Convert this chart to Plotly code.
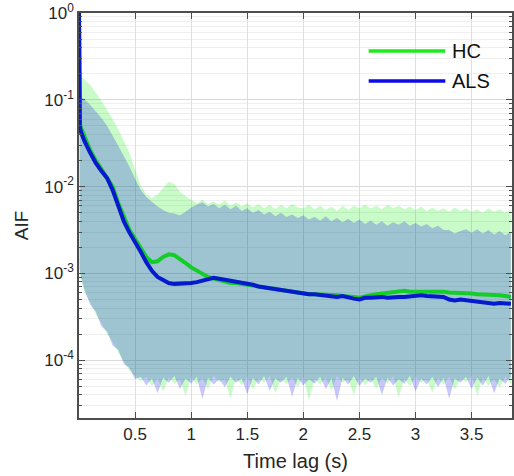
import plotly.graph_objects as go

# ---------------- data (values stored as log10 exponents) -------------
t_band = [0.005, 0.02,
          0.05, 0.10, 0.15, 0.20, 0.25, 0.30, 0.35, 0.40, 0.45, 0.50,
          0.55, 0.60, 0.65, 0.70, 0.75, 0.80, 0.85, 0.90, 0.95, 1.00,
          1.05, 1.10, 1.15, 1.20, 1.25, 1.30, 1.35, 1.40, 1.45, 1.50,
          1.55, 1.60, 1.65, 1.70, 1.75, 1.80, 1.85, 1.90, 1.95, 2.00,
          2.05, 2.10, 2.15, 2.20, 2.25, 2.30, 2.35, 2.40, 2.45, 2.50,
          2.55, 2.60, 2.65, 2.70, 2.75, 2.80, 2.85, 2.90, 2.95, 3.00,
          3.05, 3.10, 3.15, 3.20, 3.25, 3.30, 3.35, 3.40, 3.45, 3.50,
          3.55, 3.60, 3.65, 3.70, 3.75, 3.80, 3.85]

hc_upper_exp = [-0.70, -0.73,
                -0.77, -0.83, -0.92, -1.01, -1.12, -1.22, -1.34, -1.47, -1.61, -1.80,
                -1.99, -2.09, -2.13, -2.09, -2.01, -1.94, -1.97, -2.06, -2.11, -2.15,
                -2.19, -2.15, -2.20, -2.17, -2.21, -2.16, -2.22, -2.18, -2.23, -2.19,
                -2.24, -2.20, -2.25, -2.21, -2.26, -2.21, -2.25, -2.20, -2.24, -2.25,
                -2.21, -2.26, -2.22, -2.27, -2.23, -2.28, -2.22, -2.27, -2.22, -2.25,
                -2.21, -2.25, -2.22, -2.26, -2.21, -2.25, -2.22, -2.26, -2.23, -2.27,
                -2.23, -2.28, -2.24, -2.28, -2.25, -2.29, -2.24, -2.28, -2.25, -2.29,
                -2.26, -2.30, -2.25, -2.29, -2.26, -2.30, -2.27]

als_upper_exp = [-0.95, -0.97,
                 -1.00, -1.06, -1.13, -1.21, -1.30, -1.41, -1.53, -1.65, -1.77, -1.91,
                 -2.04, -2.12, -2.18, -2.23, -2.27, -2.30, -2.31, -2.33, -2.29, -2.24,
                 -2.21, -2.18, -2.23, -2.20, -2.25, -2.21, -2.26, -2.22, -2.28, -2.25,
                 -2.30, -2.27, -2.32, -2.29, -2.34, -2.30, -2.35, -2.32, -2.36, -2.33,
                 -2.38, -2.35, -2.39, -2.34, -2.40, -2.36, -2.41, -2.37, -2.42, -2.38,
                 -2.43, -2.39, -2.44, -2.40, -2.45, -2.41, -2.44, -2.40, -2.45, -2.42,
                 -2.46, -2.43, -2.48, -2.45, -2.50, -2.50, -2.54, -2.51, -2.49, -2.53,
                 -2.49, -2.54, -2.50, -2.55, -2.51, -2.56, -2.52]

hc_lower_exp = [-2.98, -3.08,
                -3.22, -3.33, -3.47, -3.57, -3.69, -3.79, -3.91, -4.01, -4.12, -4.18,
                -4.24, -4.19, -4.30, -4.21, -4.36, -4.20, -4.27, -4.22, -4.41, -4.19,
                -4.28, -4.21, -4.33, -4.18, -4.25, -4.22, -4.44, -4.20, -4.29, -4.19,
                -4.34, -4.21, -4.26, -4.18, -4.38, -4.22, -4.27, -4.20, -4.31, -4.19,
                -4.46, -4.21, -4.28, -4.20, -4.35, -4.18, -4.26, -4.22, -4.40, -4.19,
                -4.29, -4.21, -4.33, -4.20, -4.27, -4.18, -4.43, -4.21, -4.30, -4.19,
                -4.26, -4.22, -4.37, -4.20, -4.28, -4.19, -4.34, -4.21, -4.25, -4.18,
                -4.41, -4.20, -4.29, -4.22, -4.32, -4.19, -4.27]

als_lower_exp = [-2.95, -3.05,
                 -3.19, -3.36, -3.44, -3.61, -3.67, -3.83, -3.88, -4.04, -4.09, -4.22,
                 -4.19, -4.29, -4.21, -4.38, -4.20, -4.26, -4.18, -4.33, -4.21, -4.27,
                 -4.19, -4.45, -4.20, -4.28, -4.22, -4.31, -4.19, -4.26, -4.21, -4.39,
                 -4.20, -4.28, -4.18, -4.35, -4.21, -4.26, -4.19, -4.42, -4.20, -4.29,
                 -4.22, -4.27, -4.19, -4.33, -4.21, -4.47, -4.20, -4.28, -4.18, -4.30,
                 -4.21, -4.26, -4.19, -4.40, -4.20, -4.29, -4.22, -4.27, -4.18, -4.36,
                 -4.21, -4.28, -4.19, -4.31, -4.20, -4.44, -4.21, -4.26, -4.19, -4.33,
                 -4.20, -4.29, -4.18, -4.38, -4.21, -4.27, -4.19]

t_line = [0.0, 0.004, 0.008, 0.02,
          0.05, 0.10, 0.15, 0.20, 0.25, 0.30, 0.35, 0.40, 0.45, 0.50,
          0.55, 0.60, 0.65, 0.70, 0.75, 0.80, 0.85, 0.90, 0.95, 1.00,
          1.05, 1.10, 1.15, 1.20, 1.25, 1.30, 1.35, 1.40, 1.45, 1.50,
          1.55, 1.60, 1.65, 1.70, 1.75, 1.80, 1.85, 1.90, 1.95, 2.00,
          2.05, 2.10, 2.15, 2.20, 2.25, 2.30, 2.35, 2.40, 2.45, 2.50,
          2.55, 2.60, 2.65, 2.70, 2.75, 2.80, 2.85, 2.90, 2.95, 3.00,
          3.05, 3.10, 3.15, 3.20, 3.25, 3.30, 3.35, 3.40, 3.45, 3.50,
          3.55, 3.60, 3.65, 3.70, 3.75, 3.80, 3.85]

hc_mean_exp = [0.0, -1.0, -1.28, -1.33,
               -1.43, -1.58, -1.70, -1.80, -1.88, -2.00, -2.19, -2.36, -2.50, -2.60,
               -2.70, -2.81, -2.87, -2.86, -2.81, -2.78, -2.79, -2.83, -2.88, -2.93,
               -2.97, -3.01, -3.04, -3.06, -3.08, -3.09, -3.11, -3.11, -3.12, -3.13,
               -3.14, -3.15, -3.17, -3.18, -3.19, -3.20, -3.21, -3.22, -3.22, -3.23,
               -3.24, -3.24, -3.24, -3.25, -3.25, -3.25, -3.26, -3.26, -3.27, -3.28,
               -3.26, -3.25, -3.24, -3.23, -3.23, -3.22, -3.21, -3.20, -3.21, -3.21,
               -3.21, -3.20, -3.20, -3.20, -3.21, -3.22, -3.22, -3.23, -3.23, -3.23,
               -3.24, -3.24, -3.24, -3.25, -3.25, -3.26, -3.27]

als_mean_exp = [0.0, -1.0, -1.32, -1.38,
                -1.48, -1.61, -1.73, -1.82, -1.90, -2.04, -2.22, -2.40, -2.53, -2.63,
                -2.75, -2.87, -2.97, -3.04, -3.08, -3.11, -3.12, -3.12, -3.12, -3.11,
                -3.10, -3.08, -3.06, -3.05, -3.06, -3.07, -3.08, -3.09, -3.11, -3.12,
                -3.13, -3.15, -3.16, -3.17, -3.19, -3.20, -3.21, -3.22, -3.23, -3.23,
                -3.24, -3.24, -3.25, -3.26, -3.26, -3.27, -3.26, -3.28, -3.29, -3.30,
                -3.28, -3.28, -3.27, -3.27, -3.28, -3.27, -3.27, -3.27, -3.26, -3.26,
                -3.25, -3.26, -3.26, -3.27, -3.27, -3.30, -3.31, -3.30, -3.31, -3.32,
                -3.33, -3.34, -3.35, -3.35, -3.34, -3.35, -3.35]

series_names = ["HC", "ALS"]
x_ticks = [0.5, 1, 1.5, 2, 2.5, 3, 3.5]
x_tick_text = ["0.5", "1", "1.5", "2", "2.5", "3", "3.5"]
y_tick_exps = [-4, -3, -2, -1, 0]


def pw(e):
    return [10 ** v for v in e]


FONT = "Liberation Sans, Arial, sans-serif"
TXT = "#262626"

fig = go.Figure()

# HC band (green)
fig.add_trace(go.Scatter(x=t_band, y=pw(hc_upper_exp), mode="lines",
                         line=dict(width=0), showlegend=False, hoverinfo="skip"))
fig.add_trace(go.Scatter(x=t_band, y=pw(hc_lower_exp), mode="lines",
                         line=dict(width=0), fill="tonexty",
                         fillcolor="rgba(0,235,0,0.21)", showlegend=False, hoverinfo="skip"))
# ALS band (blue)
fig.add_trace(go.Scatter(x=t_band, y=pw(als_upper_exp), mode="lines",
                         line=dict(width=0), showlegend=False, hoverinfo="skip"))
fig.add_trace(go.Scatter(x=t_band, y=pw(als_lower_exp), mode="lines",
                         line=dict(width=0), fill="tonexty",
                         fillcolor="rgba(0,0,230,0.22)", showlegend=False, hoverinfo="skip"))

# mean lines
fig.add_trace(go.Scatter(x=t_line, y=pw(hc_mean_exp), mode="lines", name=series_names[0],
                         line=dict(color="rgb(20,205,40)", width=4), showlegend=False))
fig.add_trace(go.Scatter(x=t_line, y=pw(als_mean_exp), mode="lines", name=series_names[1],
                         line=dict(color="rgb(5,25,205)", width=4), showlegend=False))

# legend drawn as line samples + labels (paper coordinates)
leg_colors = ["rgb(30,235,30)", "rgb(10,10,235)"]
leg_y = [0.906, 0.832]
for name, col, yy in zip(series_names, leg_colors, leg_y):
    fig.add_shape(type="line", xref="paper", yref="paper", x0=0.669, x1=0.846,
                  y0=yy, y1=yy, line=dict(color=col, width=3.5))
    fig.add_annotation(xref="paper", yref="paper", x=0.857, y=yy, text=name,
                       showarrow=False, xanchor="left", yanchor="middle",
                       font=dict(family=FONT, size=20, color="#111111"))

# y axis title
fig.add_annotation(xref="paper", yref="paper", x=-0.133, y=0.477, text="AIF",
                   textangle=-90, showarrow=False, xanchor="center", yanchor="middle",
                   font=dict(family=FONT, size=19, color=TXT))

fig.update_layout(
    width=514, height=476,
    margin=dict(l=79, r=0, t=13, b=58),
    paper_bgcolor="white", plot_bgcolor="white",
    font=dict(family=FONT, size=17, color=TXT),
    showlegend=False,
    xaxis=dict(
        range=[0, 3.86], tickvals=x_ticks, ticktext=x_tick_text,
        ticks="inside", ticklen=6, tickcolor="#4d4d4d",
        showline=True, linecolor="#4d4d4d", linewidth=1.5, mirror="ticks",
        showgrid=True, gridcolor="#dedede", gridwidth=1, zeroline=False,
        tickfont=dict(family=FONT, size=17, color=TXT),
        title=dict(text="Time lag (s)", font=dict(family=FONT, size=20, color=TXT), standoff=11),
    ),
    yaxis=dict(
        type="log", range=[-4.665, 0],
        tickvals=[10 ** e for e in y_tick_exps],
        ticktext=["10<sup>%d</sup>" % e for e in y_tick_exps],
        ticks="inside", ticklen=6, tickcolor="#4d4d4d",
        showline=True, linecolor="#4d4d4d", linewidth=1.5, mirror="ticks",
        showgrid=True, gridcolor="#dadada", gridwidth=1, zeroline=False,
        tickfont=dict(family=FONT, size=17, color=TXT),
        minor=dict(dtick="D1", showgrid=True, gridcolor="#efefef", ticks="inside",
                   ticklen=3, tickcolor="#4d4d4d"),
    ),
)

fig.write_html("out.html")
